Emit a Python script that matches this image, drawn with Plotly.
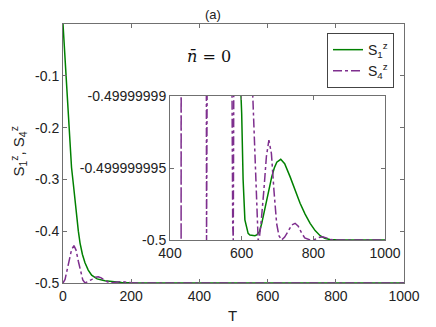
import plotly.graph_objects as go

# main panel
t_green = [0, 10, 20.5, 25, 30, 35, 40, 45, 50, 57, 64.5, 74, 84, 100, 123, 150, 172, 200, 300, 1000]
s1_main = [0, -0.118, -0.243, -0.277, -0.307, -0.342, -0.372, -0.400, -0.423, -0.445, -0.461,
           -0.475, -0.485, -0.492, -0.4955, -0.498, -0.499, -0.4996, -0.5, -0.5]

t_purple = [0, 6, 12, 18, 25, 32, 38, 45, 52, 58, 64.5, 75, 85, 95, 103.5, 112, 122, 138, 155, 172, 190, 210, 1000]
s4_main = [-0.5, -0.493, -0.475, -0.455, -0.436, -0.428, -0.436, -0.458, -0.480, -0.494, -0.5,
           -0.497, -0.493, -0.489, -0.488, -0.490, -0.495, -0.5, -0.498, -0.497, -0.499, -0.5, -0.5]

# inset: values as distance above -0.5, in units of 1e-9
t_green_in = [400, 500, 560, 585, 595, 600, 604, 609, 618, 623, 637, 642, 650, 656, 663, 670, 677, 684,
              691, 698, 709, 720, 735, 749, 763, 777, 791, 805, 819, 832, 846, 870, 1000]
s1_inset = [200000, 5000, 300, 40, 12, 8.8, 4.2, 1.4, 0.46, 0.35, 0.3, 0.35, 0.6, 1.16, 2.0, 2.8, 3.7, 4.4,
            5.0, 5.4, 5.6, 5.3, 4.4, 3.45, 2.55, 1.8, 1.16, 0.65, 0.3, 0.12, 0.03, 0, 0]

t_purple_in = [400, 428, 431, 434, 467, 499, 502, 505, 538, 565, 570, 572, 575, 576.5, 578, 582, 605, 628,
               631, 638.5, 646, 650, 654, 662, 669, 676, 683, 690, 697.5, 704, 711.5, 720, 730, 740, 749,
               758, 767, 776, 791, 805, 815, 826, 836, 848, 860, 1000]
s4_inset = [5000, 300, 0, 300, 1500, 60, 0, 60, 250, 60, 25, 10, 1, 0, 10, 40, 60, 18,
            10, 5, 0, 0.3, 1.16, 3.47, 5.8, 6.94, 6.0, 3.47, 1.16, 0.3, 0, 0.2, 0.65, 1.05, 1.16,
            0.95, 0.5, 0.15, 0, 0.05, 0.17, 0.23, 0.15, 0.03, 0, 0]

main_xticks = [0, 200, 400, 600, 800, 1000]
main_yticks = [-0.5, -0.4, -0.3, -0.2, -0.1]
inset_xticks = [400, 600, 800, 1000]
inset_ytext = ['-0.5', '-0.499999995', '-0.49999999']

green = '#008000'
purple = '#7E2F8E'
fnt = 'Liberation Sans, Arial, sans-serif'

fig = go.Figure()

fig.add_trace(go.Scatter(x=t_green, y=s1_main, mode='lines', name='S<sub>1</sub><sup>z</sup>',
                         line=dict(color=green, width=1.5)))
fig.add_trace(go.Scatter(x=t_purple, y=s4_main, mode='lines', name='S<sub>4</sub><sup>z</sup>',
                         line=dict(color=purple, width=1.5, dash='dashdot')))

fig.add_trace(go.Scatter(x=t_green_in, y=[-0.5 + v * 1e-9 for v in s1_inset], mode='lines',
                         line=dict(color=green, width=1.5), showlegend=False,
                         xaxis='x2', yaxis='y2'))
fig.add_trace(go.Scatter(x=t_purple_in, y=[-0.5 + v * 1e-9 for v in s4_inset], mode='lines',
                         line=dict(color=purple, width=1.5, dash='dashdot'), showlegend=False,
                         xaxis='x2', yaxis='y2'))

axcol = '#707070'
axis_style = dict(showline=True, linecolor=axcol, linewidth=1, mirror='ticks', ticks='inside',
                  ticklen=4, tickcolor=axcol, showgrid=False, zeroline=False, automargin=False,
                  tickfont=dict(family=fnt, size=14, color='#222'))

# page body has an 8px margin, so the figure is 8px smaller than the window
fig.update_layout(
    width=428, height=319,
    margin=dict(l=55, r=32, t=16, b=44),
    template='none',
    paper_bgcolor='white', plot_bgcolor='white',
    font=dict(family=fnt, size=14, color='#222'),
    xaxis=dict(range=[0, 1000], tickvals=main_xticks, ticktext=[str(v) for v in main_xticks], **axis_style),
    yaxis=dict(range=[-0.5, 0], tickvals=main_yticks, ticktext=[str(v) for v in main_yticks], **axis_style),
    xaxis2=dict(domain=[0.3138, 0.9443], anchor='y2', range=[400, 1000], tickvals=inset_xticks,
                ticktext=[str(v) for v in inset_xticks], **axis_style),
    yaxis2=dict(domain=[0.166, 0.722], anchor='x2', range=[-0.5, -0.49999999],
                tickvals=[-0.5, -0.499999995, -0.49999999], ticktext=inset_ytext, **axis_style),
    legend=dict(x=0.9707, y=0.965, xanchor='right', yanchor='top', bgcolor='white',
                bordercolor='#444', borderwidth=1, font=dict(family=fnt, size=14, color='#222'),
                itemwidth=30),
    showlegend=True,
)

ann = dict(xref='paper', yref='paper', showarrow=False, xanchor='center', yanchor='middle')
fig.add_annotation(text='(a)', x=0.44, y=1.036, font=dict(family=fnt, size=13, color='#222'), **ann)
fig.add_annotation(text='<i>n\u0304</i> = 0', x=0.428, y=0.873,
                   font=dict(family='DejaVu Serif, serif', size=16, color='#111'), **ann)
fig.add_annotation(text='T', x=0.496, y=-0.124, font=dict(family=fnt, size=15, color='#222'), **ann)
fig.add_annotation(text='S<sub>1</sub><sup>z</sup>, S<sub>4</sub><sup>z</sup>', x=-0.13, y=0.51,
                   textangle=-90, font=dict(family=fnt, size=15, color='#222'), **ann)

fig.write_html('out.html')
